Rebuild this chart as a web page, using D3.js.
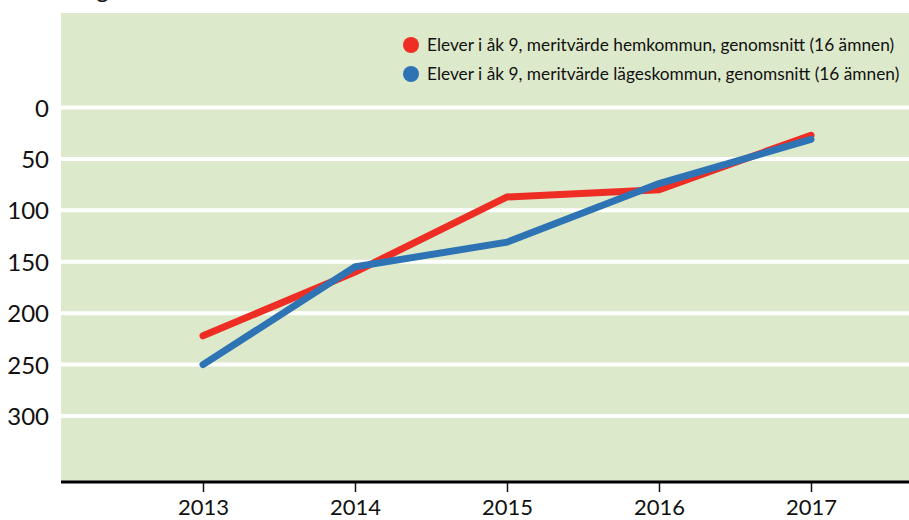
<!DOCTYPE html>
<html>
<head>
<meta charset="utf-8">
<script src="https://cdn.jsdelivr.net/npm/d3@7"></script>
<style>
  body { margin: 0; background: #fff; }
  svg { display: block; font-family: Lato, "Open Sans", sans-serif; }
</style>
</head>
<body>
<svg id="chart" width="909" height="520"></svg>
<script>
// data (rank, lower is better)
const years = [2013, 2014, 2015, 2016, 2017];
const hemkommun = [222, 160, 87, 80, 27];
const lageskommun = [250, 155, 131, 74, 31];
const yTicks = [0, 50, 100, 150, 200, 250, 300];
const seriesNames = [
  "Elever i åk 9, meritvärde hemkommun, genomsnitt (16 ämnen)",
  "Elever i åk 9, meritvärde lägeskommun, genomsnitt (16 ämnen)"
];
const colors = ["#ee2e24", "#2e74b5"];

const width = 909, height = 520;
const plotLeft = 61, plotTop = 13, plotBottom = 482;

const svg = d3.select("#chart");

// cut off title above the picture
svg.append("text")
  .attr("x", 56)
  .attr("y", -2)
  .attr("font-size", "24px")
  .attr("fill", "#111")
  .text("Rang");

// plot background
svg.append("rect")
  .attr("x", plotLeft)
  .attr("y", plotTop)
  .attr("width", width - plotLeft)
  .attr("height", plotBottom - plotTop)
  .attr("fill", "#dde9cb");

var x = d3.scalePoint().domain(years).range([203, 811]);
var y = d3.scaleLinear().domain([0, 300]).range([107.5, 416]);

// white grid lines
svg.selectAll(".grid")
  .data(yTicks)
  .enter()
  .append("line")
  .attr("x1", plotLeft)
  .attr("x2", width)
  .attr("y1", function(d) { return y(d); })
  .attr("y2", function(d) { return y(d); })
  .attr("stroke", "#fff")
  .attr("stroke-width", 4);

// y labels
svg.selectAll(".ylab")
  .data(yTicks)
  .enter()
  .append("text")
  .attr("x", 49)
  .attr("y", function(d) { return y(d) + 9; })
  .attr("text-anchor", "end")
  .attr("font-size", "24px")
  .attr("fill", "#111")
  .text(function(d) { return d; });

// x axis
var xAxis = svg.append("g")
  .attr("transform", "translate(0," + plotBottom + ")")
  .call(d3.axisBottom(x).tickSize(10).tickPadding(7).tickSizeOuter(0));
xAxis.select(".domain").remove();
xAxis.selectAll(".tick line").attr("stroke", "#111").attr("stroke-width", 1.5);
xAxis.selectAll("text")
  .attr("font-size", "22px")
  .attr("font-family", "Lato, sans-serif")
  .attr("fill", "#111");

svg.append("line")
  .attr("x1", plotLeft)
  .attr("x2", width)
  .attr("y1", plotBottom)
  .attr("y2", plotBottom)
  .attr("stroke", "#000")
  .attr("stroke-width", 3);

// lines
var line = d3.line()
  .x(function(d, i) { return x(years[i]); })
  .y(function(d) { return y(d); });

[hemkommun, lageskommun].forEach(function(s, i) {
  svg.append("path")
    .datum(s)
    .attr("d", line)
    .attr("fill", "none")
    .attr("stroke", colors[i])
    .attr("stroke-width", 7)
    .attr("stroke-linecap", "round")
    .attr("stroke-linejoin", "miter");
});

// legend
var legend = svg.selectAll(".legend")
  .data(seriesNames)
  .enter().append("g")
  .attr("transform", function(d, i) { return "translate(411," + (45 + i * 29) + ")"; });

legend.append("circle")
  .attr("r", 8)
  .attr("fill", function(d, i) { return colors[i]; });

legend.append("text")
  .attr("x", 16)
  .attr("y", 6)
  .attr("font-size", "17.3px")
  .attr("fill", "#111")
  .text(function(d) { return d; });
</script>
</body>
</html>
